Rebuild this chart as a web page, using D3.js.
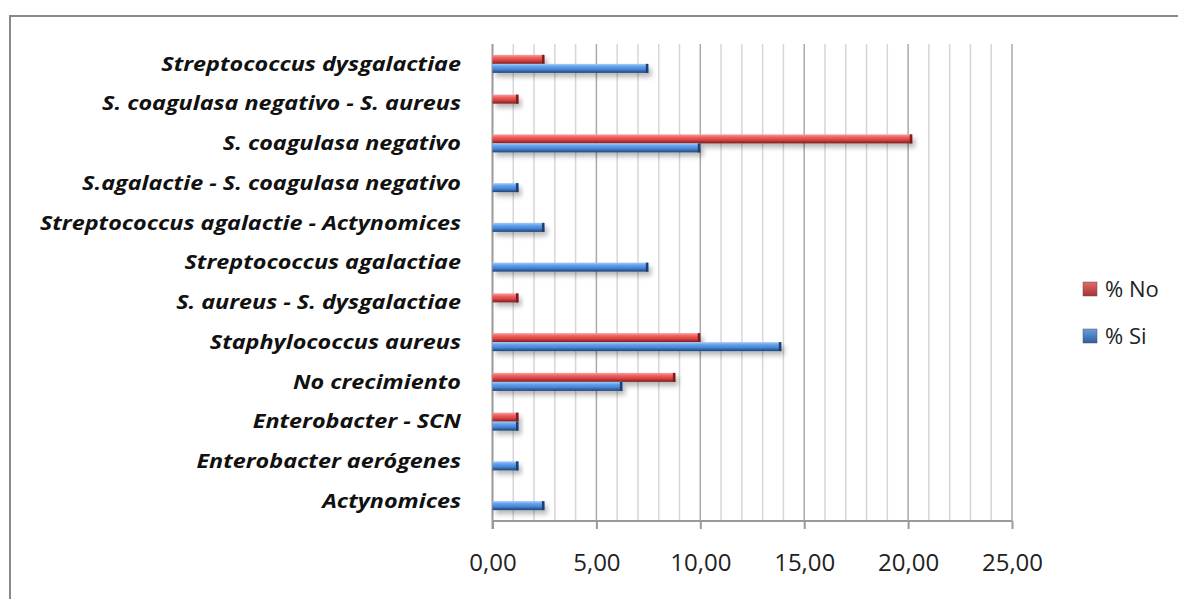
<!DOCTYPE html>
<html>
<head>
<meta charset="utf-8">
<script src="https://cdn.jsdelivr.net/npm/d3@7/dist/d3.min.js"></script>
<style>
  html, body { margin: 0; padding: 0; background: #fff; }
  svg { display: block; }
</style>
</head>
<body>
<svg id="chart" width="1178" height="599"></svg>
<script>
// Resultados de cultivo por agente, % Si / % No
const categories = [
  "Streptococcus dysgalactiae",
  "S. coagulasa negativo - S. aureus",
  "S. coagulasa negativo",
  "S.agalactie - S. coagulasa negativo",
  "Streptococcus agalactie - Actynomices",
  "Streptococcus agalactiae",
  "S. aureus - S. dysgalactiae",
  "Staphylococcus aureus",
  "No crecimiento",
  "Enterobacter - SCN",
  "Enterobacter aerógenes",
  "Actynomices"
];
const pctNo = [2.5, 1.25, 20.2, 0, 0, 0, 1.25, 10.0, 8.8, 1.25, 0, 0];
const pctSi = [7.5, 0, 10.0, 1.25, 2.5, 7.5, 0, 13.9, 6.25, 1.25, 1.25, 2.5];
const seriesNames = ["% No", "% Si"];
const tickValues = [0, 5, 10, 15, 20, 25];

const svg = d3.select("#chart");
const W = 1178, H = 599;
const plot = { left: 492.5, right: 1012, top: 44, bottom: 521 };
const textStretch = 1.23; // wide label lettering

const x = d3.scaleLinear().domain([0, 25]).range([plot.left, plot.right]);
const y = d3.scaleBand().domain(categories).range([plot.top, plot.bottom]).paddingInner(0).paddingOuter(0);
const sub = d3.scaleBand().domain(seriesNames).range([y.bandwidth() / 2 - 9, y.bandwidth() / 2 + 9]);

const defs = svg.append("defs");
function grad(id, stops) {
  const g = defs.append("linearGradient").attr("id", id)
    .attr("x1", 0).attr("y1", 0).attr("x2", 0).attr("y2", 1);
  stops.forEach(([o, c]) => g.append("stop").attr("offset", o).attr("stop-color", c));
}
grad("gNo", [[0, "#f7a0a0"], [0.3, "#ef6262"], [0.6, "#db4545"], [1, "#7e1e1e"]]);
grad("gSi", [[0, "#a3cbf7"], [0.3, "#60a0ee"], [0.6, "#4a86d4"], [1, "#1f4478"]]);
grad("gNoL", [[0, "#e26a6a"], [1, "#a83232"]]);
grad("gSiL", [[0, "#6a9edc"], [1, "#2f5f9c"]]);
const shadow = defs.append("filter").attr("id", "shadow")
  .attr("x", "-10%").attr("y", "-50%").attr("width", "130%").attr("height", "250%");
shadow.append("feDropShadow").attr("dx", 3).attr("dy", 4).attr("stdDeviation", 2.5)
  .attr("flood-color", "#000").attr("flood-opacity", 0.28);

// Outer frame
svg.append("rect").attr("x", 10).attr("y", 16).attr("width", W + 20).attr("height", H + 20)
  .attr("fill", "#fff").attr("stroke", "#8a8a8a").attr("stroke-width", 2);

// Vertical gridlines: minor every 1, major every 5
const minor = d3.range(1, 26).filter(v => v % 5 !== 0);
svg.append("g").selectAll("line").data(minor).join("line")
  .attr("x1", d => x(d)).attr("x2", d => x(d))
  .attr("y1", plot.top).attr("y2", plot.bottom)
  .attr("stroke", "#d6d6d6").attr("stroke-width", 1.5);
svg.append("g").selectAll("line").data(tickValues.slice(1)).join("line")
  .attr("x1", d => x(d)).attr("x2", d => x(d))
  .attr("y1", plot.top).attr("y2", plot.bottom)
  .attr("stroke", "#a9a9a9").attr("stroke-width", 1.5);

// Left category axis line
svg.append("line").attr("x1", x(0)).attr("x2", x(0))
  .attr("y1", plot.top).attr("y2", plot.bottom + 8)
  .attr("stroke", "#9a9a9a").attr("stroke-width", 2);

// Bars
const rows = categories.map((c, i) => ({ c, vals: [["% No", pctNo[i]], ["% Si", pctSi[i]]] }));
const barG = svg.append("g");
rows.forEach(r => {
  r.vals.forEach(([s, v]) => {
    if (!v) return;
    const y0 = y(r.c) + sub(s), h = sub.bandwidth();
    const g = barG.append("g");
    g.append("rect").attr("x", x(0)).attr("y", y0).attr("width", x(v) - x(0)).attr("height", h)
      .attr("fill", s === "% No" ? "url(#gNo)" : "url(#gSi)").attr("filter", "url(#shadow)");
    g.append("rect").attr("x", x(v) - 2.5).attr("y", y0).attr("width", 2.5).attr("height", h)
      .attr("fill", s === "% No" ? "#7d1c1c" : "#1d3f70");
  });
});

// Bottom value axis
const xAxis = d3.axisBottom(x).tickValues(tickValues).tickSize(8)
  .tickFormat(d => d3.format(".2f")(d).replace(".", ","));
const ax = svg.append("g").attr("transform", `translate(0,${plot.bottom})`).call(xAxis);
ax.select(".domain").attr("stroke", "#9a9a9a").attr("stroke-width", 2).attr("d", `M${x(0)},0H${x(25)}`);
ax.selectAll(".tick line").attr("stroke", "#9a9a9a").attr("stroke-width", 2);
ax.selectAll(".tick text").attr("dy", 0).attr("y", 50)
  .attr("font-family", "Open Sans, sans-serif").attr("font-size", 24).attr("fill", "#222");

// Category labels
svg.append("g").selectAll("text").data(categories).join("text")
  .attr("transform", d => `translate(461,${y(d) + y.bandwidth() / 2}) scale(${textStretch},1)`)
  .attr("dy", "0.35em").attr("text-anchor", "end")
  .attr("font-family", "Open Sans, sans-serif").attr("font-size", 19)
  .attr("font-weight", "bold").attr("font-style", "italic").attr("fill", "#111")
  .text(d => d);

// Legend
const legend = svg.append("g");
const legendItems = [
  { name: "% No", fill: "url(#gNoL)", y: 289 },
  { name: "% Si", fill: "url(#gSiL)", y: 336 }
];
legendItems.forEach(it => {
  legend.append("rect").attr("x", 1083).attr("y", it.y - 7).attr("width", 14).attr("height", 14)
    .attr("fill", it.fill).attr("stroke", "#555").attr("stroke-width", 0.5);
  legend.append("text").attr("x", 1105).attr("y", it.y).attr("dy", "0.35em")
    .attr("font-family", "Open Sans, sans-serif").attr("font-size", 22).attr("fill", "#222")
    .text(it.name);
});
</script>
</body>
</html>
